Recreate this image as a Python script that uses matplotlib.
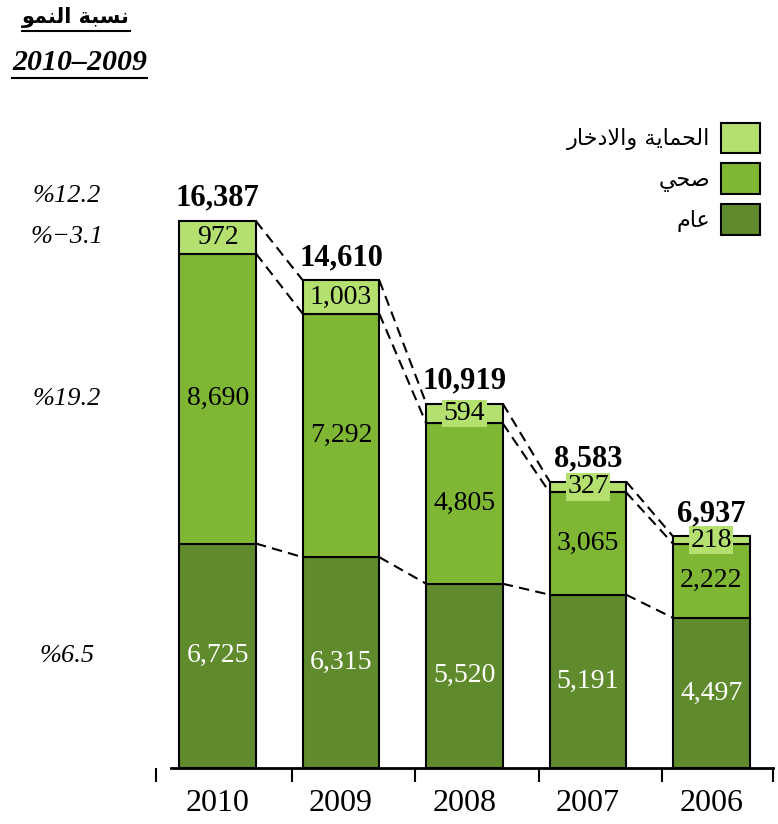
import numpy as np
import matplotlib.pyplot as plt
from matplotlib.lines import Line2D

# Arabic presentation forms: (isolated, final, initial, medial) or (isolated, final)
FORMS = {
    'ا': (0xFE8D, 0xFE8E), 'ب': (0xFE8F, 0xFE90, 0xFE91, 0xFE92),
    'ة': (0xFE93, 0xFE94), 'ح': (0xFEA1, 0xFEA2, 0xFEA3, 0xFEA4),
    'خ': (0xFEA5, 0xFEA6, 0xFEA7, 0xFEA8), 'د': (0xFEA9, 0xFEAA),
    'ر': (0xFEAD, 0xFEAE), 'س': (0xFEB1, 0xFEB2, 0xFEB3, 0xFEB4),
    'ص': (0xFEB9, 0xFEBA, 0xFEBB, 0xFEBC), 'ع': (0xFEC9, 0xFECA, 0xFECB, 0xFECC),
    'ل': (0xFEDD, 0xFEDE, 0xFEDF, 0xFEE0), 'م': (0xFEE1, 0xFEE2, 0xFEE3, 0xFEE4),
    'ن': (0xFEE5, 0xFEE6, 0xFEE7, 0xFEE8), 'و': (0xFEED, 0xFEEE),
    'ي': (0xFEF1, 0xFEF2, 0xFEF3, 0xFEF4), '\ufefb': (0xFEFB, 0xFEFC),
}


def shape(s):
    # join letters and return in visual (left-to-right) order
    s = s.replace('لا', '\ufefb')
    out = []
    for i, ch in enumerate(s):
        f = FORMS.get(ch)
        if f is None:
            out.append(ch)
            continue
        prev = s[i - 1] if i > 0 else ''
        nxt = s[i + 1] if i + 1 < len(s) else ''
        jp = prev in FORMS and len(FORMS[prev]) == 4
        jn = len(f) == 4 and nxt in FORMS
        out.append(chr(f[int(jp) + 2 * int(jn)]))
    return ''.join(out[::-1])


# data
years = ['2010', '2009', '2008', '2007', '2006']
general = np.array([6725, 6315, 5520, 5191, 4497])
health = np.array([8690, 7292, 4805, 3065, 2222])
protect = np.array([972, 1003, 594, 327, 218])
totals = np.array([16387, 14610, 10919, 8583, 6937])
growth = ['%12.2', '%−3.1', '%19.2', '%6.5']
series_names = ['عام', 'صحي', 'الحماية والادخار']

c_dark = '#608B2D'
c_mid = '#7FB735'
c_light = '#B3E06F'

plt.rcParams['font.family'] = ['Liberation Serif', 'DejaVu Sans']

fig = plt.figure(figsize=(7.78, 8.24), dpi=100)
ax = fig.add_axes([0.2005, 0.068, 0.7931, 0.81])

x = np.arange(len(years))
w = 0.62
b1 = ax.bar(x, general, w, color=c_dark, edgecolor='black', linewidth=1.5)
b2 = ax.bar(x, health, w, bottom=general, color=c_mid, edgecolor='black', linewidth=1.5)
b3 = ax.bar(x, protect, w, bottom=general + health, color=c_light, edgecolor='black', linewidth=1.5)

# dashed connectors between bars
for level in [general, general + health, totals]:
    for i in range(len(x) - 1):
        ax.plot([x[i] + w / 2, x[i + 1] - w / 2], [level[i], level[i + 1]],
                color='black', linestyle=(0, (5, 3)), linewidth=1.5)

# value labels
for i in range(len(x)):
    ax.text(x[i], general[i] / 2, f'{general[i]:,}', color='white',
            ha='center', va='center', fontsize=20)
    ax.text(x[i], general[i] + health[i] / 2, f'{health[i]:,}', color='black',
            ha='center', va='center', fontsize=20)
    ax.text(x[i], totals[i] - protect[i] / 2, f'{protect[i]:,}', color='black',
            ha='center', va='center', fontsize=20,
            bbox=dict(facecolor=c_light, edgecolor='none', pad=1))
    ax.annotate(f'{totals[i]:,}', (x[i], totals[i]), xytext=(0, 6),
                textcoords='offset points', ha='center', va='bottom',
                fontsize=22, fontweight='bold')

# growth rates 2010/2009
gy = [totals[0], totals[0] - protect[0] / 2,
      general[0] + health[0] / 2, general[0] / 2]
goff = [18, 0, 0, 0]
for g, yy, off in zip(growth, gy, goff):
    ax.annotate(g, (-0.144, yy), xycoords=('axes fraction', 'data'),
                xytext=(0, off), textcoords='offset points',
                ha='center', va='center', fontsize=19, style='italic',
                annotation_clip=False)

# axes
ax.set_xlim(-0.5, 4.5)
ax.set_ylim(0, 20000)
ax.set_xticks(x)
ax.set_xticklabels(years, fontsize=23)
ax.set_xticks([-0.5, 0.6, 1.6, 2.6, 3.6, 4.5], minor=True)
ax.tick_params(axis='x', which='major', length=0, pad=15)
ax.tick_params(axis='x', which='minor', length=10, width=1.5, direction='out')
ax.set_yticks([])
for s in ['top', 'right', 'left']:
    ax.spines[s].set_visible(False)
ax.spines['bottom'].set_linewidth(2)
ax.spines['bottom'].set_bounds(-0.38, 4.5)

# legend
ax.legend([b3, b2, b1], [shape(n) for n in series_names[::-1]],
          loc='upper right', bbox_to_anchor=(0.977, 0.851),
          bbox_transform=fig.transFigure, frameon=False, markerfirst=False,
          handlelength=1.75, handleheight=1.75, labelspacing=0.45,
          handletextpad=0.5, borderpad=0, borderaxespad=0,
          prop={'family': 'DejaVu Sans', 'size': 16})

# title lines (underlined)
t1 = fig.text(130 / 778, 1 - 18 / 824, shape('نسبة النمو'), ha='right', va='center',
              fontsize=15, fontweight='bold', family='DejaVu Sans')
t2 = fig.text(147 / 778, 1 - 62 / 824, '2010–2009', ha='right', va='center',
              fontsize=21.5, fontweight='bold', style='italic')
fig.canvas.draw()
for t in [t1, t2]:
    bb = t.get_window_extent()
    yl = (bb.y0 - 2) / fig.bbox.height
    fig.add_artist(Line2D([bb.x0 / fig.bbox.width, bb.x1 / fig.bbox.width], [yl, yl],
                          color='black', linewidth=1.5))

fig.savefig('out.png', dpi=100)
